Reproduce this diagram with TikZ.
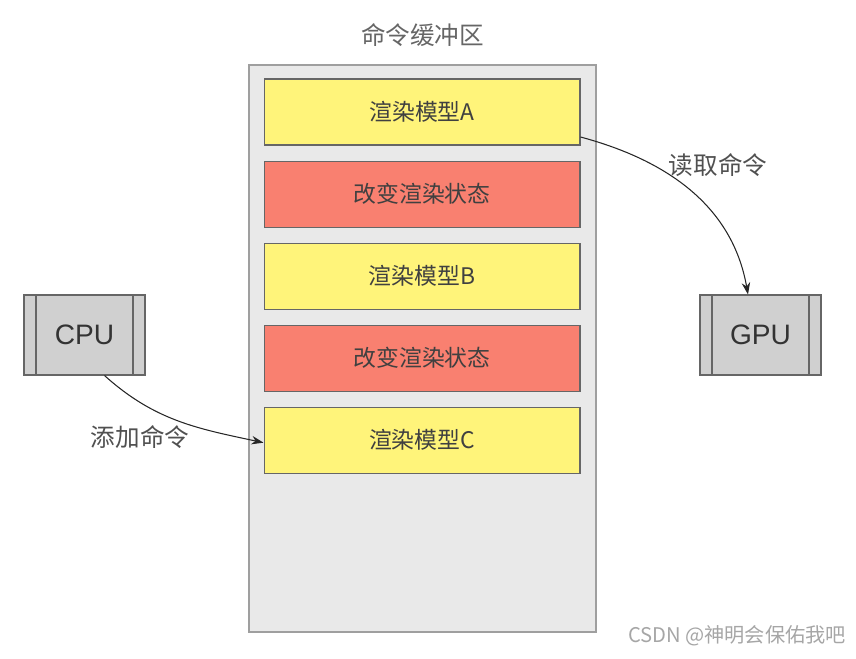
\documentclass[tikz,border=0pt]{standalone}
\usepackage{fontspec}
\setmainfont{Liberation Sans}
\newfontfamily\cjk{Noto Sans CJK SC}
\usetikzlibrary{positioning, arrows.meta}

\definecolor{cmdyellow}{RGB}{255,244,122}
\definecolor{cmdred}{RGB}{249,128,112}
\definecolor{bufgray}{RGB}{233,233,233}
\definecolor{unitgray}{RGB}{208,208,208}
\definecolor{txtgray}{RGB}{80,80,80}

\tikzset{
  cmdbox/.style={draw=gray!80!black, semithick, minimum width=6.32cm, minimum height=1.32cm,
    font=\cjk\fontsize{13}{15}\selectfont, text=black!75},
  unit/.style={draw=gray!80!black, semithick, fill=unitgray, minimum width=2.42cm, minimum height=1.6cm,
    font=\fontsize{16}{18}\selectfont, text=black!80,
    path picture={
      \draw[gray!80!black] ([xshift=0.24cm]path picture bounding box.north west) -- ([xshift=0.24cm]path picture bounding box.south west);
      \draw[gray!80!black] ([xshift=-0.24cm]path picture bounding box.north east) -- ([xshift=-0.24cm]path picture bounding box.south east);
    }},
  lbl/.style={font=\cjk\fontsize{14}{16}\selectfont, text=txtgray},
  link/.style={->, semithick, gray!30!black}
}

\begin{document}
\begin{tikzpicture}[x=0.02cm, y=-0.02cm, >={Stealth[length=0.24cm, width=0.17cm]}]
  \useasboundingbox (0,0) rectangle (856,659);

  % command buffer
  \node[draw=gray!75, very thick, fill=bufgray, minimum width=6.94cm, minimum height=11.34cm] (buf) at (422.5,348.5) {};
  \node[lbl, text=gray!80!black, above=0.22cm of buf] (title) {命令缓冲区};

  \node[cmdbox, fill=cmdyellow] (cmdA) at (422,112) {渲染模型A};
  \node[cmdbox, fill=cmdred, below=0.3cm of cmdA] (state1) {改变渲染状态};
  \node[cmdbox, fill=cmdyellow, below=0.3cm of state1] (cmdB) {渲染模型B};
  \node[cmdbox, fill=cmdred, below=0.3cm of cmdB] (state2) {改变渲染状态};
  \node[cmdbox, fill=cmdyellow, below=0.3cm of state2] (cmdC) {渲染模型C};

  % processors
  \node[unit] (cpu) at (84.5,335) {CPU};
  \node[unit] (gpu) at (760.5,335) {GPU};

  \draw[link] ([xshift=0.4cm]cpu.south) to[out=-42, in=168] ([yshift=-0.05cm]cmdC.west);
  \node[lbl] (add) at (140,437) {添加命令};

  \draw[link] ([yshift=-0.5cm]cmdA.east) to[out=-15, in=100] ([xshift=-0.25cm]gpu.north);
  \node[lbl] (read) at (718,165) {读取命令};

  \node[font=\cjk\fontsize{11.5}{13}\selectfont, text=gray!70] (mark) at (737,636) {CSDN @神明会保佑我吧};
\end{tikzpicture}
\end{document}
